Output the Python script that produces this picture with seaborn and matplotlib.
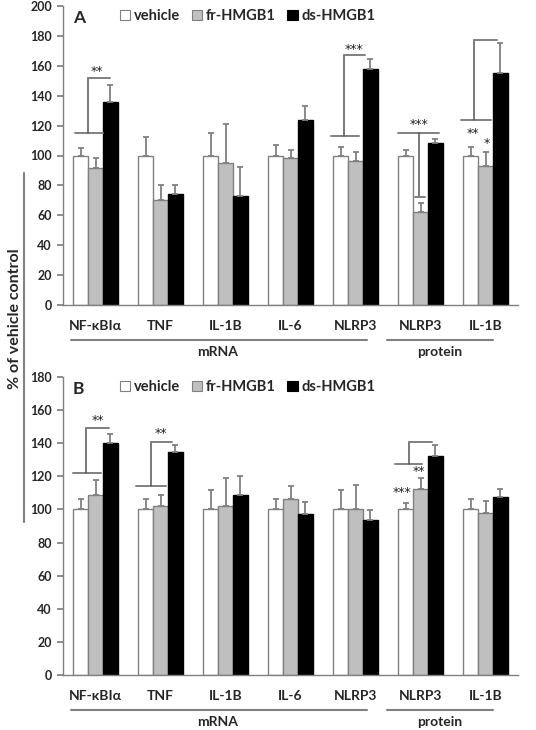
import matplotlib
matplotlib.use('Agg')
import matplotlib.pyplot as plt
from matplotlib.patches import Patch
from matplotlib.lines import Line2D
import pandas as pd
import seaborn as sns

# categories (two NLRP3 / IL-1B columns: mRNA and protein)
genes = ['NF-κBIα', 'TNF', 'IL-1B', 'IL-6', 'NLRP3', 'NLRP3', 'IL-1B']
cat_keys = ['NFKBIA_m', 'TNF_m', 'IL1B_m', 'IL6_m', 'NLRP3_m', 'NLRP3_p', 'IL1B_p']
groups = ['vehicle', 'fr-HMGB1', 'ds-HMGB1']

# panel A
a_vehicle = [100, 100, 100, 100, 100, 100, 100]
a_vehicle_err = [5, 12.5, 15, 7, 6, 4, 5.5]
a_fr = [91.5, 70.5, 95, 98.5, 96.5, 62, 93]
a_fr_err = [6.5, 10, 26, 5, 6, 6, 9.5]
a_ds = [136, 74, 73, 123.5, 158, 108.5, 155]
a_ds_err = [11, 6.5, 19.5, 9.5, 6.5, 2.5, 20]

# panel B
b_vehicle = [100, 100, 100, 100, 100, 100, 100]
b_vehicle_err = [6.5, 6.5, 11.5, 6.5, 11.5, 4, 6.5]
b_fr = [108.5, 102, 102, 106.5, 100.5, 112.5, 98]
b_fr_err = [9, 6.5, 17, 7.5, 14, 6.5, 7]
b_ds = [140, 135, 109, 97, 93.5, 132.5, 107.5]
b_ds_err = [5.5, 4, 11, 7.5, 6, 6.5, 5]

# significance brackets: (category, low y, high y, low x span, vertical x, high x end)
a_brackets = [
    (0, 115, 152, (-0.32, 0.11), -0.12, 0.22),
    (4, 113, 167, (-0.38, 0.06), -0.18, 0.14),
    (6, 124, 177, (-0.37, 0.08), -0.17, 0.18),
    # the protein NLRP3 one hangs down to the fr-HMGB1 bar
    (5, 115.3, 72.4, (-0.35, 0.29), -0.02, None),
]
a_stars = [(0, 0.02, 156, '**'), (4, -0.02, 171, '***'), (5, -0.03, 121, '***'),
           (6, -0.20, 114.5, '**'), (6, 0.02, 108, '*')]
b_brackets = [
    (0, 122, 149, (-0.35, 0.09), -0.14, 0.20),
    (1, 114, 141, (-0.37, 0.08), -0.15, 0.18),
    (5, 127.5, 141, (-0.40, 0.03), -0.18, 0.17),
]
b_stars = [(0, 0.03, 154, '**'), (1, 0.01, 146, '**'), (5, -0.03, 123, '**'),
           (5, -0.29, 110, '***')]

fills = ['white', '#bfbfbf', 'black']
edges = ['#808080', '#808080', 'black']
GRAY = '#808080'
FONT = 'Lato'

sns.set_theme(style='white')
plt.rcParams['font.family'] = [FONT, 'DejaVu Sans']


def make_df(vals):
    rows = []
    for g, v in zip(groups, vals):
        for k, x in zip(cat_keys, v):
            rows.append({'cat': k, 'group': g, 'value': x})
    return pd.DataFrame(rows)


def draw_panel(ax, vals, errs, ymax, letter, brackets, stars):
    df = make_df(vals)
    sns.barplot(data=df, x='cat', y='value', hue='group', order=cat_keys,
                hue_order=groups, palette=fills, width=0.69, gap=0,
                errorbar=None, legend=False, ax=ax)
    for cont, ec, err in zip(ax.containers, edges, errs):
        xs, ys = [], []
        for p in cont.patches:
            p.set_edgecolor(ec)
            p.set_linewidth(1.0)
            xs.append(p.get_x() + p.get_width() / 2)
            ys.append(p.get_height())
        _, caps, bars = ax.errorbar(xs, ys, yerr=[[0] * len(err), err], fmt='none',
                                    ecolor=GRAY, elinewidth=1.3, capsize=2.5,
                                    capthick=1.3, zorder=1)
        for c in caps:
            c.set_color('#444444')

    ax.set_xlim(-0.5, 6.5)
    ax.set_ylim(0, ymax)
    ax.set_yticks(range(0, ymax + 1, 20))
    ax.set_yticklabels([str(t) for t in range(0, ymax + 1, 20)],
                       fontsize=9, fontweight='bold')
    ax.set_xticks(range(len(genes)))
    ax.set_xticklabels(genes, fontsize=10, fontweight='bold')
    ax.set_xticks([i + 0.5 for i in range(-1, len(genes))], minor=True)
    ax.tick_params(axis='x', which='major', length=0, pad=11)
    ax.tick_params(axis='x', which='minor', length=4, color=GRAY, direction='out')
    ax.tick_params(axis='y', length=4, color=GRAY, direction='out', left=True, pad=4)
    ax.set_xlabel('')
    ax.set_ylabel('')
    sns.despine(ax=ax)
    for s in ['left', 'bottom']:
        ax.spines[s].set_color(GRAY)
        ax.spines[s].set_linewidth(1.0)

    # significance brackets
    for c, ylo, yhi, span, xv, xend in brackets:
        ax.plot([c + span[0], c + span[1]], [ylo, ylo], color=GRAY, lw=1.4)
        ax.plot([c + xv, c + xv], [ylo, yhi], color='#555555', lw=1.1)
        if xend is None:
            ax.plot([c + xv - 0.07, c + xv + 0.09], [yhi, yhi], color=GRAY, lw=1.4)
        else:
            ax.plot([c + xv, c + xend], [yhi, yhi], color=GRAY, lw=1.4)
    for c, dx, y, s in stars:
        ax.text(c + dx, y, s, ha='center', va='center', fontsize=9,
                family='DejaVu Sans', color='#222222')

    ax.text(0.022, 1 - 12 / 299, letter, transform=ax.transAxes, fontsize=12.5,
            fontweight='bold', va='center', ha='left')

    handles = [Patch(facecolor=f, edgecolor=e, linewidth=0.8, label=g)
               for f, e, g in zip(fills, edges, groups)]
    ax.legend(handles=handles, loc='upper left', bbox_to_anchor=(0.113, 1.01),
              ncol=3, frameon=False, handlelength=0.7, handleheight=0.7,
              handletextpad=0.25, columnspacing=0.8, borderaxespad=0,
              prop={'family': FONT, 'weight': 'bold', 'size': 10.5})

    # mRNA / protein underlines
    trans = ax.get_xaxis_transform()
    for x0, x1, xt, txt in [(-0.38, 4.17, 1.88, 'mRNA'), (4.48, 6.11, 5.29, 'protein')]:
        ax.plot([x0, x1], [-0.117, -0.117], transform=trans, color=GRAY, lw=1.5,
                clip_on=False)
        ax.text(xt, -0.157, txt, transform=trans, ha='center', va='center',
                fontsize=10, fontweight='bold')


fig = plt.figure(figsize=(5.36, 7.3), dpi=100)
ax_a = fig.add_axes([63 / 536, 1 - 305 / 730, 455 / 536, 299 / 730])
ax_b = fig.add_axes([63 / 536, 1 - 675 / 730, 455 / 536, 298 / 730])

draw_panel(ax_a, [a_vehicle, a_fr, a_ds], [a_vehicle_err, a_fr_err, a_ds_err],
           200, 'A', a_brackets, a_stars)
draw_panel(ax_b, [b_vehicle, b_fr, b_ds], [b_vehicle_err, b_fr_err, b_ds_err],
           180, 'B', b_brackets, b_stars)

fig.text(15 / 536, 1 - 319 / 730, '% of vehicle control', rotation=90,
         ha='center', va='center', fontsize=11.5, fontweight='bold')
fig.add_artist(Line2D([24 / 536, 24 / 536], [1 - 173 / 730, 1 - 522 / 730],
                      color=GRAY, lw=1.5))

fig.savefig('out.png', dpi=100)
